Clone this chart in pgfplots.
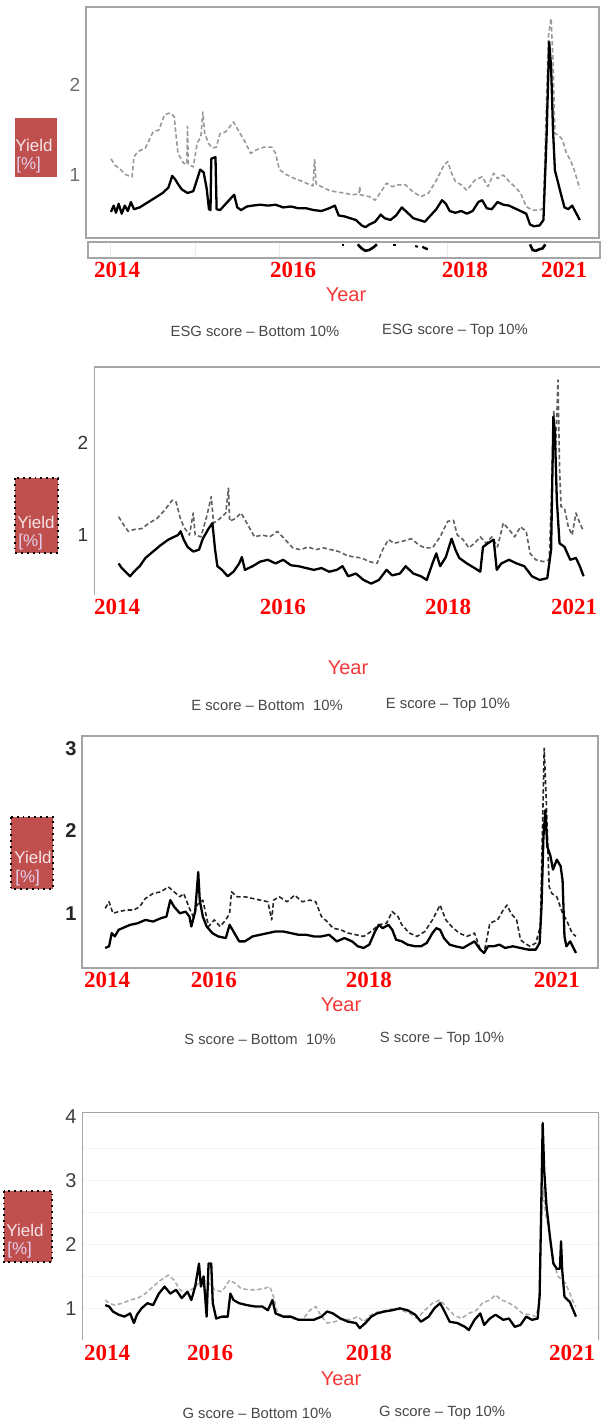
\documentclass[border=0pt]{standalone}
\usepackage{fontspec}
\setmainfont{Liberation Sans}
\newfontfamily\lsans{Liberation Sans}
\newfontfamily\lserif{Liberation Serif}
\usepackage{pgfplots}
\pgfplotsset{compat=1.18}
\usepackage{pgfplotstable}

\definecolor{yieldred}{RGB}{192,80,77}
\definecolor{yieldtxt}{RGB}{246,228,232}
\definecolor{pcttxt}{RGB}{226,208,240}
\definecolor{yearred}{RGB}{245,55,55}
\definecolor{tickred}{RGB}{255,0,0}
\definecolor{legtxt}{RGB}{70,70,70}
\definecolor{frame}{RGB}{165,165,165}

% ---------- Panel 1 : ESG ----------
\pgfplotstableread{
x y
290 0.59
297 0.66
303 0.58
310 0.68
318 0.57
326 0.66
334 0.60
342 0.70
350 0.62
365 0.64
380 0.68
395 0.72
410 0.76
425 0.80
440 0.86
450 0.99
458 0.95
465 0.90
475 0.84
490 0.80
505 0.82
515 0.95
523 1.06
532 1.03
540 0.85
546 0.62
550 0.61
552 1.18
563 1.20
566 0.62
575 0.61
590 0.68
605 0.75
612 0.78
620 0.64
630 0.61
645 0.65
660 0.66
680 0.67
700 0.66
720 0.67
740 0.64
760 0.65
780 0.63
800 0.63
820 0.61
840 0.60
860 0.63
875 0.66
885 0.55
900 0.54
915 0.52
930 0.50
945 0.44
955 0.42
965 0.45
980 0.48
995 0.56
1005 0.52
1020 0.50
1035 0.55
1050 0.64
1065 0.58
1080 0.52
1095 0.50
1110 0.48
1125 0.55
1140 0.62
1155 0.72
1165 0.68
1175 0.60
1190 0.58
1205 0.60
1220 0.57
1235 0.60
1250 0.70
1260 0.72
1272 0.63
1285 0.62
1300 0.70
1315 0.67
1330 0.66
1345 0.63
1360 0.60
1375 0.57
1385 0.45
1395 0.43
1410 0.44
1420 0.50
1428 1.40
1435 2.48
1440 2.20
1445 1.50
1450 1.05
1458 0.92
1465 0.80
1475 0.64
1485 0.62
1495 0.66
1505 0.58
1515 0.50
}\esgsolid

\pgfplotstableread{
x y
290 1.18
300 1.11
315 1.06
330 1.00
345 0.98
350 1.20
360 1.26
380 1.30
400 1.48
415 1.50
430 1.67
445 1.69
455 1.65
465 1.24
480 1.13
488 1.12
490 1.54
492 1.12
505 1.09
515 1.35
525 1.43
530 1.70
535 1.46
545 1.35
555 1.30
565 1.31
575 1.46
590 1.48
610 1.59
625 1.48
640 1.37
655 1.24
670 1.28
690 1.31
710 1.31
720 1.24
730 1.06
750 1.00
770 0.96
790 0.93
810 0.89
818 0.88
822 1.17
826 0.90
840 0.87
860 0.83
880 0.81
900 0.80
920 0.78
938 0.79
940 0.87
942 0.78
965 0.76
980 0.72
995 0.81
1010 0.91
1025 0.87
1040 0.89
1060 0.89
1080 0.81
1100 0.76
1120 0.80
1140 0.94
1160 1.11
1170 1.15
1180 1.02
1190 0.93
1205 0.89
1220 0.83
1240 0.94
1260 0.98
1275 0.87
1290 1.02
1300 0.96
1315 1.00
1330 0.93
1345 0.87
1360 0.80
1375 0.65
1390 0.61
1410 0.61
1420 0.63
1428 1.83
1433 2.54
1440 2.74
1445 2.28
1450 1.46
1460 1.44
1470 1.39
1480 1.24
1490 1.17
1500 1.06
1515 0.85
}\esgdash

% ---------- Panel 2 : E ----------
\pgfplotstableread{
x y
310 0.69
318 0.64
328 0.60
340 0.55
350 0.60
365 0.66
380 0.75
400 0.82
420 0.89
440 0.95
455 0.98
465 1.00
472 1.04
480 0.95
490 0.87
505 0.82
520 0.84
530 0.96
545 1.07
555 1.13
562 0.84
568 0.66
580 0.62
595 0.55
610 0.60
625 0.69
632 0.76
640 0.62
660 0.66
680 0.71
700 0.73
720 0.69
740 0.73
760 0.67
780 0.66
800 0.64
820 0.62
840 0.64
860 0.60
880 0.62
895 0.66
910 0.55
930 0.58
950 0.51
970 0.47
990 0.51
1010 0.62
1025 0.56
1045 0.58
1060 0.66
1080 0.58
1100 0.55
1115 0.51
1130 0.69
1140 0.80
1150 0.66
1165 0.76
1180 0.96
1190 0.84
1200 0.75
1220 0.69
1240 0.64
1255 0.60
1262 0.87
1275 0.91
1290 0.95
1298 0.62
1310 0.69
1330 0.73
1350 0.69
1370 0.66
1390 0.55
1410 0.51
1430 0.53
1440 0.84
1446 2.29
1450 2.11
1455 1.38
1462 0.91
1475 0.87
1490 0.73
1505 0.75
1515 0.66
1525 0.55
}\esolid

\pgfplotstableread{
x y
310 1.20
320 1.13
335 1.04
350 1.06
370 1.07
390 1.13
410 1.18
430 1.27
450 1.38
460 1.36
470 1.20
480 1.09
495 1.00
505 1.24
510 1.00
525 0.98
540 1.20
552 1.42
558 1.13
575 1.18
590 1.24
597 1.51
600 1.15
615 1.18
630 1.24
645 1.13
665 0.98
685 1.00
705 0.98
725 1.04
745 0.95
765 0.86
785 0.84
805 0.87
825 0.84
845 0.86
865 0.84
885 0.82
905 0.78
925 0.76
945 0.75
965 0.71
985 0.69
1000 0.84
1015 0.95
1030 0.91
1050 0.93
1075 0.96
1095 0.89
1110 0.86
1130 0.86
1150 0.98
1170 1.15
1185 1.16
1195 1.00
1210 0.95
1225 0.86
1240 0.91
1255 0.98
1270 0.91
1285 0.98
1300 0.87
1315 1.13
1330 1.06
1345 0.98
1360 1.09
1375 1.04
1385 0.80
1400 0.73
1420 0.71
1435 0.73
1442 1.56
1447 2.36
1452 1.93
1458 2.69
1462 1.75
1466 1.31
1475 1.29
1485 1.09
1495 1.00
1505 1.24
1515 1.13
1525 1.04
}\edash

% ---------- Panel 3 : S ----------
\pgfplotstableread{
x y
275 0.58
285 0.60
292 0.76
300 0.72
310 0.80
320 0.82
340 0.86
360 0.88
380 0.92
400 0.90
420 0.94
435 0.96
445 1.16
455 1.08
470 1.00
485 1.02
495 0.96
500 0.84
510 1.02
518 1.50
522 1.16
530 0.96
540 0.84
555 0.76
570 0.72
590 0.70
600 0.86
610 0.78
625 0.66
640 0.66
660 0.72
680 0.74
700 0.76
720 0.78
740 0.78
760 0.76
780 0.74
800 0.74
820 0.72
840 0.72
860 0.74
880 0.66
900 0.70
920 0.66
935 0.60
950 0.58
965 0.62
980 0.78
990 0.86
1000 0.82
1015 0.86
1025 0.80
1035 0.68
1050 0.66
1065 0.62
1085 0.60
1100 0.60
1115 0.64
1130 0.76
1140 0.82
1150 0.80
1160 0.70
1175 0.62
1190 0.60
1210 0.58
1225 0.62
1240 0.66
1255 0.56
1265 0.52
1275 0.60
1290 0.60
1305 0.62
1320 0.58
1340 0.60
1360 0.58
1380 0.56
1400 0.56
1410 0.64
1415 1.08
1420 1.93
1425 2.25
1430 1.81
1438 1.70
1445 1.53
1455 1.65
1465 1.57
1470 1.40
1475 0.72
1480 0.60
1490 0.66
1505 0.52
}\ssolid

\pgfplotstableread{
x y
275 1.06
285 1.14
295 1.00
310 1.02
330 1.04
350 1.04
365 1.08
380 1.18
400 1.24
420 1.26
440 1.32
455 1.26
470 1.20
480 1.24
495 1.06
505 0.96
515 1.10
530 1.16
545 0.84
560 0.92
575 0.84
590 0.92
600 1.00
605 1.26
620 1.20
640 1.20
660 1.18
680 1.16
700 1.14
710 0.92
715 1.16
730 1.20
750 1.14
770 1.22
790 1.14
810 1.16
825 1.14
840 0.96
855 0.90
870 0.82
890 0.80
910 0.76
930 0.74
950 0.72
970 0.78
990 0.86
1010 0.88
1025 1.02
1040 0.96
1050 0.86
1070 0.76
1090 0.72
1110 0.78
1130 0.92
1150 1.10
1165 0.92
1180 0.84
1200 0.76
1220 0.72
1240 0.76
1255 0.56
1265 0.52
1280 0.88
1300 0.92
1315 1.04
1325 1.10
1335 1.00
1350 0.92
1360 0.68
1370 0.64
1385 0.60
1400 0.64
1412 0.84
1418 2.13
1422 3.00
1428 2.29
1435 1.32
1442 1.24
1455 1.20
1470 1.00
1480 0.92
1495 0.76
1505 0.72
}\sdash

% ---------- Panel 4 : G ----------
\pgfplotstableread{
x y
275 1.05
285 1.03
295 0.95
310 0.90
325 0.87
340 0.92
350 0.77
358 0.90
370 1.00
385 1.08
400 1.05
415 1.23
430 1.34
445 1.23
460 1.29
475 1.16
490 1.26
500 1.13
510 1.34
520 1.70
525 1.34
532 1.50
540 0.87
545 1.70
552 1.70
556 1.08
565 0.84
580 0.87
595 0.87
602 1.23
610 1.13
625 1.08
645 1.05
665 1.03
685 1.03
700 0.97
712 1.13
720 0.92
740 0.87
760 0.87
780 0.82
800 0.82
820 0.82
840 0.87
855 0.95
870 0.92
890 0.84
910 0.79
930 0.77
940 0.69
955 0.77
970 0.87
985 0.92
1005 0.95
1025 0.97
1045 1.00
1065 0.97
1085 0.90
1100 0.79
1120 0.87
1135 1.00
1150 1.08
1160 0.97
1175 0.79
1195 0.77
1215 0.71
1225 0.66
1240 0.82
1255 0.92
1265 0.74
1280 0.84
1295 0.90
1315 0.82
1330 0.84
1345 0.71
1360 0.74
1375 0.87
1390 0.82
1405 0.84
1410 1.20
1414 2.50
1418 3.90
1422 3.16
1428 2.60
1437 2.12
1446 1.70
1455 1.62
1463 1.62
1466 2.05
1469 1.60
1475 1.18
1489 1.10
1505 0.87
}\gsolid

\pgfplotstableread{
x y
275 1.13
285 1.08
300 1.05
320 1.08
340 1.13
360 1.16
380 1.23
400 1.34
420 1.44
440 1.52
455 1.44
470 1.29
485 1.23
500 1.29
520 1.39
540 1.44
560 1.29
580 1.26
600 1.44
615 1.39
630 1.31
650 1.29
670 1.29
690 1.31
705 1.34
715 1.18
725 0.92
745 0.87
765 0.84
790 0.82
810 0.97
825 1.03
840 0.87
855 0.77
875 0.79
895 0.84
915 0.82
935 0.87
950 0.79
970 0.90
990 0.95
1010 0.97
1030 1.00
1050 0.97
1070 0.92
1090 0.84
1110 0.97
1130 1.08
1150 1.13
1165 1.03
1185 0.90
1205 0.84
1225 0.92
1245 0.97
1260 1.08
1280 1.13
1295 1.21
1310 1.13
1325 1.10
1345 1.03
1365 0.92
1385 0.90
1400 0.87
1410 1.08
1415 2.40
1420 2.90
1425 2.50
1432 2.30
1440 1.95
1448 1.70
1458 1.50
1468 1.45
1478 1.39
1488 1.25
1498 1.10
1505 1.03
}\gdash

\pgfplotsset{
  panel/.style={
    scale only axis, anchor=north west,
    axis line style={draw=frame, line width=0.8pt},
    tick align=inside, major tick length=0pt, minor tick length=0pt,
    xtick={#1}, xticklabels={2014,2016,2018,2021},
    xticklabel style={font=\lserif\bfseries\fontsize{11.5}{12}\selectfont, text=tickred, anchor=center},
    yticklabel style={font=\lsans\fontsize{9.5}{10}\selectfont, anchor=center, xshift=-5.5pt},
    /pgf/number format/assume math mode=true,
    clip=true,
  },
  solidline/.style={black, line width=1.15pt, line join=round},
  dashline/.style={line width=0.8pt, dash pattern=on 2.2pt off 1.3pt, line join=round},
}

\begin{document}
\begin{tikzpicture}
\path[use as bounding box] (0pt,0pt) rectangle (300pt,-711pt);

% ================= Panel 1 =================
\begin{axis}[panel={306,766,1215,1474},
  at={(43pt,-3.5pt)}, width=256.5pt, height=115.5pt,
  xmin=224.7, xmax=1565.2, ymin=0.30, ymax=2.867,
  ytick={1,2}, yticklabel style={text=gray!85!black},
  xticklabel style={yshift=-16pt}]
  \addplot[dashline, gray!80] table[x=x,y=y] {\esgdash};
  \addplot[solidline] table[x=x,y=y] {\esgsolid};
\end{axis}
% lower strip
\begin{axis}[scale only axis, anchor=north west,
  at={(44pt,-121pt)}, width=256pt, height=8pt,
  xmin=230, xmax=1568, ymin=0, ymax=1,
  axis line style={draw=frame, line width=0.8pt},
  xtick={290,510,730,950,1170,1390}, xticklabels={}, ytick=\empty,
  major tick length=0pt, xmajorgrids, grid style={gray!15, line width=0.5pt}]
  \addplot[black, line width=1.3pt] coordinates {(935,0.85) (945,0.6) (955,0.45) (965,0.5) (975,0.65) (985,0.85)};
  \addplot[black, line width=1.3pt] coordinates {(1385,0.85) (1392,0.5) (1400,0.45) (1410,0.55) (1418,0.6) (1425,0.85)};
  \addplot[black, line width=1pt] coordinates {(893,0.8) (899,0.8)};
  \addplot[black, line width=1pt] coordinates {(1028,0.8) (1034,0.8)};
  \addplot[black, line width=1pt] coordinates {(1085,0.75) (1092,0.7)};
  \addplot[black, line width=1.2pt] coordinates {(1104,0.7) (1112,0.6) (1118,0.55)};
\end{axis}

% ================= Panel 2 =================
\begin{axis}[panel={306,739,1171,1500},
  at={(47pt,-183.5pt)}, width=253pt, height=114pt,
  xmin=245.6, xmax=1567.8, ymin=0.346, ymax=2.832,
  axis line style={draw=none},
  ytick={1,2}, yticklabel style={text=black!80},
  xticklabel style={yshift=-6pt}]
  \draw[frame, line width=0.8pt] (rel axis cs:0,0) -- (rel axis cs:0,1) -- (rel axis cs:1,1);
  \addplot[dashline, gray!75!black] table[x=x,y=y] {\edash};
  \addplot[solidline] table[x=x,y=y] {\esolid};
\end{axis}

% ================= Panel 3 =================
\begin{axis}[panel={280,559,964,1455},
  at={(41pt,-368pt)}, width=258pt, height=116pt,
  xmin=214.3, xmax=1562.6, ymin=0.337, ymax=3.149,
  ytick={1,2,3}, yticklabel style={text=black!85, font=\lsans\bfseries\fontsize{10}{10}\selectfont},
  xticklabel style={yshift=-6pt}]
  \addplot[dashline, black!85] table[x=x,y=y] {\sdash};
  \addplot[solidline] table[x=x,y=y] {\ssolid};
\end{axis}

% ================= Panel 4 =================
\begin{axis}[panel={280,549,964,1495},
  at={(41pt,-556pt)}, width=258.5pt, height=114pt,
  xmin=214.3, xmax=1565.2, ymin=0.504, ymax=4.072,
  axis line style={draw=none},
  ytick={1,2,3,4}, minor ytick={1.5,2.5,3.5},
  ymajorgrids, yminorgrids, grid style={gray!8, line width=0.6pt},
  yticklabel style={text=black!75, font=\lsans\fontsize{10}{10}\selectfont},
  xticklabel style={yshift=-6.5pt}]
  \draw[frame, line width=0.8pt] (rel axis cs:0,0) -- (rel axis cs:0,1) -- (rel axis cs:1,1) -- (rel axis cs:1,0);
  \addplot[dashline, gray!65] table[x=x,y=y] {\gdash};
  \addplot[solidline] table[x=x,y=y] {\gsolid};
\end{axis}

% ================= texts and labels (pixel coordinates) =================
\begin{scope}[x=0.5pt, y=-0.5pt]
\fill[yieldred] (15,118) rectangle (57,177);
\node[anchor=west, inner sep=0, text=yieldtxt, font=\lsans\fontsize{8.5}{9}\selectfont] at (15,145) {Yield};
\node[anchor=west, inner sep=0, text=pcttxt, font=\lsans\fontsize{8.5}{9}\selectfont] at (16,165) {[\%]};
\node[text=yearred, font=\lsans\fontsize{10}{10}\selectfont] at (346,295) {Year};
\node[text=legtxt, font=\lsans\fontsize{7.4}{8}\selectfont] at (255,331) {ESG score \textendash\ Bottom 10\%};
\node[text=legtxt, font=\lsans\fontsize{7.4}{8}\selectfont] at (455,331) {ESG score \textendash\ Top 10\%};

\fill[yieldred] (15,478) rectangle (58,553);
\draw[black, dotted, line width=0.9pt] (15,478) rectangle (58,553);
\node[anchor=west, inner sep=0, text=yieldtxt, font=\lsans\fontsize{8.5}{9}\selectfont] at (17,522) {Yield};
\node[anchor=west, inner sep=0, text=pcttxt, font=\lsans\fontsize{8.5}{9}\selectfont] at (18,542) {[\%]};
\node[text=yearred, font=\lsans\fontsize{10}{10}\selectfont] at (348,668) {Year};
\node[text=legtxt, font=\lsans\fontsize{7.4}{8}\selectfont] at (267,705) {E score \textendash\ Bottom\ \ 10\%};
\node[text=legtxt, font=\lsans\fontsize{7.4}{8}\selectfont] at (448,705) {E score \textendash\ Top 10\%};

\begin{scope}
\clip (11,817) rectangle (51,889);
\fill[yieldred] (11,817) rectangle (53,889);
\node[anchor=west, inner sep=0, text=yieldtxt, font=\lsans\fontsize{8.5}{9}\selectfont] at (14,857) {Yield};
\node[anchor=west, inner sep=0, text=pcttxt, font=\lsans\fontsize{8.5}{9}\selectfont] at (15,878) {[\%]};
\end{scope}
\fill[yieldred] (51,817) rectangle (53,889);
\draw[black, dotted, line width=0.9pt] (11,817) rectangle (53,889);
\node[text=yearred, font=\lsans\fontsize{10}{10}\selectfont] at (341,1005) {Year};
\node[text=legtxt, font=\lsans\fontsize{7.4}{8}\selectfont] at (260,1039) {S score \textendash\ Bottom\ \ 10\%};
\node[text=legtxt, font=\lsans\fontsize{7.4}{8}\selectfont] at (442,1039) {S score \textendash\ Top 10\%};

\fill[yieldred] (4,1191) rectangle (52,1262);
\draw[black, dotted, line width=0.9pt] (4,1191) rectangle (52,1262);
\node[anchor=west, inner sep=0, text=yieldtxt, font=\lsans\fontsize{8.5}{9}\selectfont] at (6,1230) {Yield};
\node[anchor=west, inner sep=0, text=pcttxt, font=\lsans\fontsize{8.5}{9}\selectfont] at (7,1250) {[\%]};
\node[text=yearred, font=\lsans\fontsize{10}{10}\selectfont] at (341,1379) {Year};
\node[text=legtxt, font=\lsans\fontsize{7.4}{8}\selectfont] at (257,1413) {G score \textendash\ Bottom 10\%};
\node[text=legtxt, font=\lsans\fontsize{7.4}{8}\selectfont] at (442,1413) {G score \textendash\ Top 10\%};
\end{scope}
\end{tikzpicture}
\end{document}
